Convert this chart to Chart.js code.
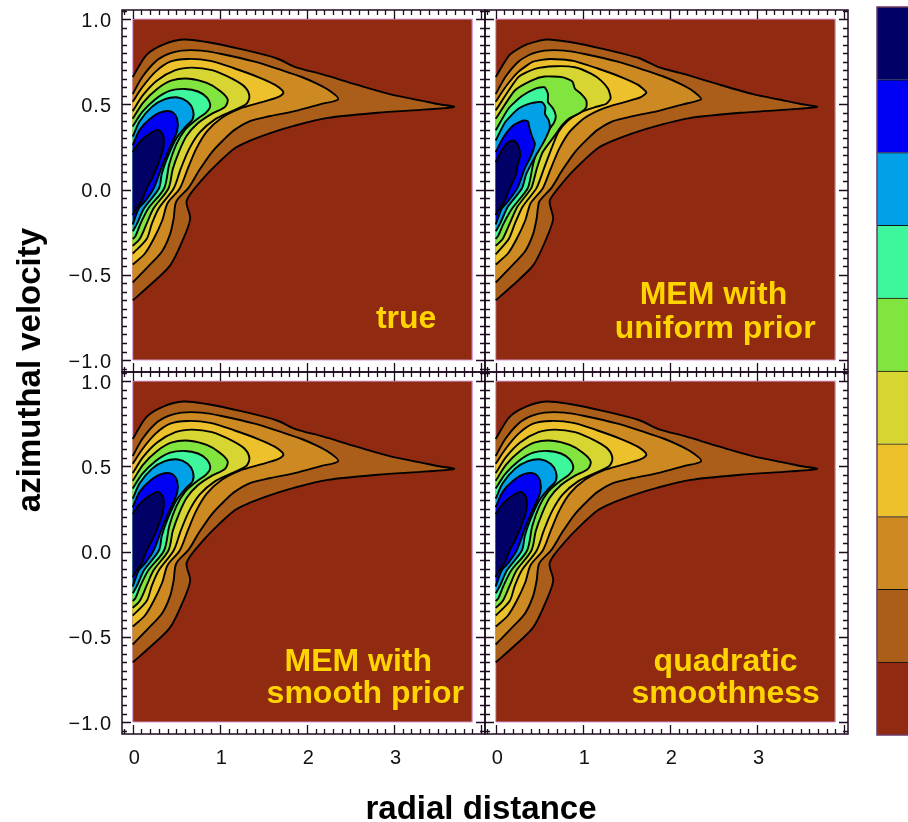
<!DOCTYPE html>
<html>
<head>
<meta charset="utf-8">
<script src="https://cdn.jsdelivr.net/npm/chart.js@4.4.1/dist/chart.umd.min.js"></script>
<style>
body { margin: 0; background: #fff; overflow: hidden; }
#fig { position: relative; width: 908px; height: 822px; overflow: hidden; }
#fig canvas { position: absolute; top: 0; }
</style>
</head>
<body>
<div id="fig">
<canvas id="p0" width="908" height="822" style="left:0"></canvas>
<canvas id="p1" width="908" height="822" style="left:0"></canvas>
<canvas id="p2" width="908" height="822" style="left:0"></canvas>
<canvas id="p3" width="908" height="822" style="left:0"></canvas>
<canvas id="cb" width="60" height="822" style="left:874px"></canvas>
</div>
<script>
// colours from lowest level (background) to highest
var levelColors = ['#902a11', '#ab5e1a', '#cd8a22', '#edc12b', '#d6d531', '#82e43f', '#3ef69b', '#00a1e7', '#0000f4', '#000067'];
var bandValues = [1, 1, 1, 1, 1, 1, 1, 1, 1, 1];

var xRange = [-0.123, 4.045];
var yRange = [-1.07, 1.053];
var fieldBox = [[0, -1], [0, 1], [3.9, 1], [3.9, -1], [0, -1]];

var xMajor = [0, 1, 2, 3];
var xLabels = ['0', '1', '2', '3'];
var yMajor = [1, 0.5, 0, -0.5, -1];
var yLabels = ['1.0', '0.5', '0.0', '\u22120.5', '\u22121.0'];

var panelTitles = [['true'], ['MEM with', 'uniform prior'], ['MEM with', 'smooth prior'], ['quadratic', 'smoothness']];

// contour lines, outer to inner
var lev1 = [[0, 0.66], [0.16, 0.79], [0.35, 0.85], [0.58, 0.88], [0.85, 0.865], [1.23, 0.825], [1.65, 0.77], [1.86, 0.72], [2.18, 0.675], [2.57, 0.615], [2.95, 0.56], [3.33, 0.52], [3.52, 0.50], [3.69, 0.485], [3.38, 0.47], [2.81, 0.45], [2.24, 0.42], [1.86, 0.375], [1.57, 0.33], [1.34, 0.285], [1.18, 0.245], [1.00, 0.165], [0.81, 0.065], [0.62, -0.065], [0.66, -0.17], [0.58, -0.29], [0.43, -0.445], [0.20, -0.56], [0, -0.65]];
var lev2 = [[0, 0.56], [0.11, 0.66], [0.26, 0.75], [0.41, 0.795], [0.56, 0.815], [0.79, 0.815], [1.02, 0.795], [1.40, 0.75], [1.71, 0.70], [1.94, 0.66], [2.12, 0.62], [2.26, 0.58], [2.36, 0.53], [2.15, 0.50], [1.86, 0.46], [1.57, 0.43], [1.34, 0.40], [1.17, 0.35], [1.06, 0.30], [0.91, 0.22], [0.76, 0.11], [0.64, 0.01], [0.50, -0.07], [0.47, -0.17], [0.43, -0.26], [0.34, -0.36], [0.19, -0.445], [0, -0.545]];
var lev3 = [[0, 0.515], [0.11, 0.60], [0.26, 0.69], [0.43, 0.75], [0.63, 0.766], [0.89, 0.755], [1.17, 0.71], [1.44, 0.66], [1.63, 0.615], [1.73, 0.57], [1.66, 0.54], [1.46, 0.51], [1.23, 0.475], [1.02, 0.42], [0.85, 0.34], [0.73, 0.24], [0.63, 0.12], [0.54, 0.006], [0.40, -0.08], [0.34, -0.18], [0.24, -0.29], [0.14, -0.375], [0, -0.44]];
var lev4 = [[0, 0.46], [0.12, 0.555], [0.28, 0.64], [0.49, 0.70], [0.68, 0.715], [0.91, 0.70], [1.14, 0.65], [1.29, 0.60], [1.34, 0.545], [1.30, 0.50], [1.14, 0.46], [0.94, 0.41], [0.77, 0.335], [0.65, 0.24], [0.55, 0.12], [0.47, 0.006], [0.30, -0.11], [0.22, -0.20], [0.16, -0.29], [0, -0.375]];
var lev5 = [[0, 0.415], [0.12, 0.51], [0.28, 0.59], [0.45, 0.64], [0.65, 0.65], [0.85, 0.625], [1.00, 0.58], [1.09, 0.53], [1.06, 0.485], [0.91, 0.445], [0.75, 0.39], [0.62, 0.315], [0.53, 0.22], [0.46, 0.12], [0.41, 0.006], [0.24, -0.11], [0.16, -0.20], [0.08, -0.29], [0, -0.33]];
var lev6 = [[0, 0.37], [0.11, 0.455], [0.26, 0.53], [0.43, 0.58], [0.60, 0.59], [0.75, 0.575], [0.85, 0.54], [0.89, 0.49], [0.84, 0.45], [0.73, 0.41], [0.60, 0.35], [0.50, 0.265], [0.42, 0.15], [0.36, 0.006], [0.18, -0.11], [0.09, -0.20], [0.03, -0.275], [0, -0.29]];
var lev7 = [[0, 0.31], [0.08, 0.40], [0.22, 0.485], [0.37, 0.53], [0.52, 0.54], [0.63, 0.515], [0.69, 0.47], [0.69, 0.415], [0.61, 0.37], [0.50, 0.30], [0.40, 0.19], [0.335, 0.094], [0.30, 0.006], [0.13, -0.11], [0.05, -0.20], [0, -0.245]];
var lev8 = [[0, 0.26], [0.08, 0.35], [0.20, 0.415], [0.335, 0.455], [0.45, 0.455], [0.51, 0.415], [0.51, 0.345], [0.43, 0.25], [0.335, 0.135], [0.24, 0.006], [0.14, -0.07], [0.07, -0.11], [0, -0.205]];
var lev9 = [[0, 0.22], [0.08, 0.28], [0.20, 0.33], [0.29, 0.35], [0.35, 0.315], [0.35, 0.24], [0.29, 0.146], [0.22, 0.064], [0.16, 0.006], [0.10, -0.07], [0.03, -0.12], [0, -0.15]];

// uniform prior panel, inner levels are noisier
var trLev4 = [[0, 0.464], [0.26, 0.659], [0.45, 0.708], [0.68, 0.723], [0.91, 0.717], [1.10, 0.678], [1.21, 0.639], [1.29, 0.591], [1.32, 0.536], [1.27, 0.503], [1.14, 0.483], [0.98, 0.454], [0.83, 0.405], [0.72, 0.337], [0.64, 0.24], [0.555, 0.125], [0.47, 0.01], [0.31, -0.10], [0.22, -0.20], [0.15, -0.29], [0, -0.38]];
var trLev5 = [[0, 0.415], [0.22, 0.581], [0.41, 0.639], [0.56, 0.663], [0.76, 0.659], [0.88, 0.634], [0.91, 0.591], [0.98, 0.561], [1.04, 0.522], [1.04, 0.483], [0.97, 0.450], [0.85, 0.419], [0.76, 0.376], [0.68, 0.318], [0.54, 0.22], [0.47, 0.12], [0.41, 0.01], [0.25, -0.10], [0.16, -0.20], [0.08, -0.29], [0, -0.33]];
var trLev6 = [[0, 0.347], [0.145, 0.474], [0.30, 0.548], [0.45, 0.591], [0.56, 0.600], [0.60, 0.561], [0.60, 0.513], [0.66, 0.474], [0.69, 0.431], [0.67, 0.392], [0.62, 0.357], [0.565, 0.308], [0.50, 0.26], [0.43, 0.15], [0.37, 0.01], [0.19, -0.11], [0.09, -0.20], [0.03, -0.27], [0, -0.29]];
var trLev7 = [[0, 0.288], [0.11, 0.396], [0.26, 0.474], [0.41, 0.507], [0.53, 0.513], [0.57, 0.483], [0.565, 0.444], [0.61, 0.405], [0.62, 0.357], [0.58, 0.308], [0.53, 0.259], [0.45, 0.19], [0.35, 0.09], [0.30, 0.006], [0.14, -0.10], [0.05, -0.20], [0, -0.245]];
var trLev8 = [[0, 0.22], [0.09, 0.308], [0.20, 0.376], [0.32, 0.405], [0.37, 0.40], [0.39, 0.357], [0.42, 0.308], [0.45, 0.269], [0.43, 0.23], [0.39, 0.181], [0.335, 0.125], [0.25, 0.01], [0.14, -0.07], [0.07, -0.11], [0, -0.205]];
var trLev9 = [[0, 0.162], [0.07, 0.23], [0.145, 0.279], [0.21, 0.288], [0.26, 0.255], [0.28, 0.20], [0.25, 0.142], [0.23, 0.084], [0.16, 0.006], [0.10, -0.07], [0.03, -0.12], [0, -0.15]];

var smoothLevels = [lev1, lev2, lev3, lev4, lev5, lev6, lev7, lev8, lev9];
var uniformLevels = [lev1, lev2, lev3, trLev4, trLev5, trLev6, trLev7, trLev8, trLev9];

function pts(a) {
    var out = [];
    for (var i = 0; i < a.length; i++) {
        out.push({ x: a[i][0], y: a[i][1] });
    }
    return out;
}

function makeDatasets(levels, tension) {
    var ds = [];
    // first dataset is drawn on top, so innermost first
    for (var i = levels.length - 1; i >= 0; i--) {
        ds.push({
            data: pts(levels[i]),
            fill: 'shape',
            backgroundColor: levelColors[i + 1],
            borderColor: '#000',
            borderWidth: 1.9,
            pointRadius: 0,
            tension: tension
        });
    }
    ds.push({
        data: pts(fieldBox),
        fill: 'shape',
        backgroundColor: levelColors[0],
        borderColor: '#dca4dc',
        borderWidth: 1,
        pointRadius: 0,
        tension: 0
    });
    return ds;
}

var framePlugin = {
    id: 'frame',
    afterDraw: function (chart, args, opts) {
        var ctx = chart.ctx, a = chart.chartArea;
        var xs = chart.scales.x, ys = chart.scales.y;
        ctx.save();
        ctx.strokeStyle = '#1e0a1e';
        ctx.lineWidth = 1.5;
        ctx.strokeRect(a.left, a.top, a.right - a.left, a.bottom - a.top);
        ctx.lineWidth = 1.3;
        ctx.beginPath();
        for (var k = -1; k <= 40; k++) {
            var px = Math.round(xs.getPixelForValue(k / 10)) + 0.5;
            var len = (k % 10 == 0) ? 9 : 5;
            ctx.moveTo(px, a.top); ctx.lineTo(px, a.top + len);
            ctx.moveTo(px, a.bottom); ctx.lineTo(px, a.bottom - len);
        }
        for (var j = -21; j <= 21; j++) {
            var py = Math.round(ys.getPixelForValue(j / 20)) + 0.5;
            var len2 = (j % 10 == 0) ? 9 : 5;
            ctx.moveTo(a.left, py); ctx.lineTo(a.left + len2, py);
            ctx.moveTo(a.right, py); ctx.lineTo(a.right - len2, py);
        }
        ctx.stroke();

        ctx.fillStyle = '#111';
        ctx.font = '20px "Liberation Sans", Arial, sans-serif';
        ctx.letterSpacing = '1px';
        if (opts.showY) {
            ctx.textAlign = 'right';
            ctx.textBaseline = 'middle';
            for (var m = 0; m < yMajor.length; m++) {
                ctx.fillText(yLabels[m], a.left - 10, ys.getPixelForValue(yMajor[m]) + 2);
            }
        }
        if (opts.showX) {
            ctx.textAlign = 'center';
            ctx.textBaseline = 'middle';
            for (var n = 0; n < xMajor.length; n++) {
                ctx.fillText(xLabels[n], xs.getPixelForValue(xMajor[n]) + 2, a.bottom + 24);
            }
        }

        ctx.letterSpacing = '0px';
        ctx.fillStyle = '#ffd400';
        ctx.font = 'bold 32px "Liberation Sans", Arial, sans-serif';
        ctx.textAlign = 'center';
        ctx.textBaseline = 'alphabetic';
        for (var t = 0; t < opts.title.length; t++) {
            ctx.fillText(opts.title[t], xs.getPixelForValue(opts.titleX[t]), ys.getPixelForValue(opts.titleY[t]));
        }

        if (opts.axisTitles) {
            ctx.fillStyle = '#000';
            ctx.font = 'bold 33px "Liberation Sans", Arial, sans-serif';
            ctx.fillText('radial distance', 481, 819);
            ctx.translate(40, 370);
            ctx.rotate(-Math.PI / 2);
            ctx.fillText('azimuthal velocity', 0, 0);
        }
        ctx.restore();
    }
};

function panel(id, levels, tension, pad, frameOpts) {
    return new Chart(document.getElementById(id), {
        type: 'line',
        data: { datasets: makeDatasets(levels, tension) },
        options: {
            responsive: false,
            animation: false,
            layout: { padding: pad },
            plugins: {
                legend: { display: false },
                tooltip: { enabled: false },
                frame: frameOpts
            },
            scales: {
                x: { type: 'linear', min: xRange[0], max: xRange[1], display: false },
                y: { type: 'linear', min: yRange[0], max: yRange[1], display: false }
            }
        },
        plugins: [framePlugin]
    });
}

var g0 = panel('p0', smoothLevels, 0.3, { left: 122, top: 10, right: 423, bottom: 450 },
    { showY: true, showX: false, title: panelTitles[0], titleX: [3.14], titleY: [-0.81] });
var g1 = panel('p1', uniformLevels, 0.2, { left: 485, top: 10, right: 60, bottom: 450 },
    { showY: false, showX: false, title: panelTitles[1], titleX: [2.5, 2.52], titleY: [-0.67, -0.87] });
var g2 = panel('p2', smoothLevels, 0.3, { left: 122, top: 372, right: 423, bottom: 88 },
    { showY: true, showX: true, title: panelTitles[2], titleX: [2.59, 2.67], titleY: [-0.70, -0.89], axisTitles: true });
var g3 = panel('p3', smoothLevels, 0.3, { left: 485, top: 372, right: 60, bottom: 88 },
    { showY: false, showX: true, title: panelTitles[3], titleX: [2.64, 2.64], titleY: [-0.70, -0.89] });

// colour bar
var cbDatasets = [];
for (var i = 0; i < levelColors.length; i++) {
    cbDatasets.push({
        data: [bandValues[i]],
        backgroundColor: levelColors[i],
        borderColor: '#111',
        borderWidth: { top: 1, bottom: 0, left: 0, right: 0 },
        borderSkipped: false,
        categoryPercentage: 1,
        barPercentage: 1
    });
}
var cbFrame = {
    id: 'cbFrame',
    afterDraw: function (chart) {
        var a = chart.chartArea, ctx = chart.ctx;
        ctx.save();
        ctx.strokeStyle = '#6a3a6a';
        ctx.lineWidth = 1.5;
        ctx.strokeRect(a.left, a.top, a.right - a.left + 10, a.bottom - a.top);
        ctx.restore();
    }
};
var cb = new Chart(document.getElementById('cb'), {
    type: 'bar',
    data: { labels: [''], datasets: cbDatasets },
    options: {
        responsive: false,
        animation: false,
        layout: { padding: { left: 3, right: 0, top: 7, bottom: 87 } },
        plugins: { legend: { display: false }, tooltip: { enabled: false } },
        scales: {
            x: { stacked: true, display: false },
            y: { stacked: true, min: 0, max: 10, display: false }
        }
    },
    plugins: [cbFrame]
});
</script>
</body>
</html>
